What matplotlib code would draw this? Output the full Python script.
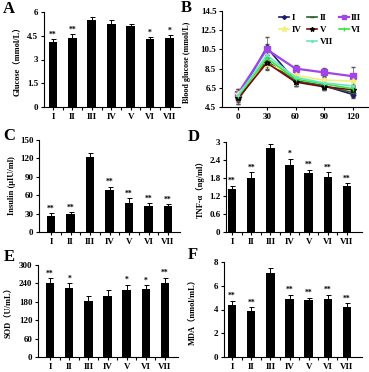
import matplotlib
matplotlib.use("Agg")
import matplotlib.pyplot as plt
from matplotlib.lines import Line2D
import numpy as np

plt.rcParams["font.family"] = ["Liberation Serif", "Noto Sans CJK SC"]
plt.rcParams["font.weight"] = "bold"

groups = ["I", "II", "III", "IV", "V", "VI", "VII"]

glucose = [4.1, 4.35, 5.5, 5.25, 5.1, 4.3, 4.35]
glucose_err = [0.2, 0.25, 0.2, 0.25, 0.12, 0.1, 0.2]
glucose_sig = ["**", "**", "", "", "", "*", "*"]

insulin = [26, 29, 123, 69, 48, 43, 42]
insulin_err = [5, 3, 5, 5, 7, 4, 4]
insulin_sig = ["**", "**", "", "**", "**", "**", "**"]

tnf = [1.45, 1.8, 2.8, 2.25, 1.98, 1.85, 1.52]
tnf_err = [0.1, 0.2, 0.15, 0.2, 0.1, 0.15, 0.12]
tnf_sig = ["**", "**", "", "*", "**", "**", "**"]

sod = [241, 225, 181, 199, 218, 223, 241]
sod_err = [15, 15, 18, 18, 18, 12, 18]
sod_sig = ["**", "*", "", "", "*", "*", "**"]

mda = [4.4, 3.9, 7.1, 4.9, 4.8, 4.9, 4.2]
mda_err = [0.35, 0.3, 0.4, 0.35, 0.2, 0.35, 0.35]
mda_sig = ["**", "**", "", "**", "**", "**", "**"]

# OGTT curves (panel B)
times = [0, 30, 60, 90, 120]
ogtt = {
    "I": [5.5, 10.7, 7.2, 6.7, 5.8],
    "II": [5.3, 9.3, 7.2, 6.7, 6.0],
    "III": [5.9, 10.5, 8.5, 8.1, 7.7],
    "IV": [5.9, 9.0, 7.8, 7.3, 7.2],
    "V": [5.4, 9.1, 7.1, 6.6, 6.3],
    "VI": [5.6, 9.6, 7.4, 6.9, 6.4],
    "VII": [5.7, 9.9, 7.6, 7.0, 6.7],
}
ogtt_err = {
    "I": [0.5, 1.1, 0.5, 0.3, 0.4],
    "II": [0.5, 0.6, 0.5, 0.4, 0.5],
    "III": [0.5, 0.6, 0.4, 0.5, 1.0],
    "IV": [0.5, 0.6, 0.5, 0.4, 0.6],
    "V": [0.6, 0.6, 0.4, 0.3, 0.5],
    "VI": [0.5, 0.6, 0.5, 0.4, 0.5],
    "VII": [0.5, 0.6, 0.5, 0.4, 0.5],
}
ogtt_style = {
    "I": ("#1b1b6b", "D", 2.5),
    "II": ("#2e5e2e", "_", 4),
    "III": ("#a045e8", "s", 4),
    "IV": ("#f2f07a", "*", 5),
    "V": ("#7a0a0a", "*", 4),
    "VI": ("#3ee03e", "|", 3),
    "VII": ("#66e6c2", ".", 3),
}

W, H = 369, 372
fig = plt.figure(figsize=(W / 100, H / 100), dpi=100)


def px_axes(l, r, t, b):
    return fig.add_axes([l / W, 1 - b / H, (r - l) / W, (b - t) / H])


def style_axes(ax):
    ax.spines["top"].set_visible(False)
    ax.spines["right"].set_visible(False)
    ax.spines["left"].set_linewidth(0.8)
    ax.spines["bottom"].set_linewidth(0.8)
    ax.tick_params(axis="both", labelsize=6.5, width=0.8, length=2.5, direction="out", pad=1.5)
    for lab in ax.get_yticklabels() + ax.get_xticklabels():
        lab.set_fontweight("bold")


def bar_panel(ax, vals, errs, sig, ymax, step, first_x, last_x, left, right, ylabel, lab_x, big_x=False):
    x = np.arange(len(groups))
    ax.bar(x, vals, width=0.45, color="black")
    ax.errorbar(x, vals, yerr=[np.zeros(len(vals)), errs], fmt="none",
                ecolor="black", elinewidth=0.7, capsize=1.8, capthick=0.7)
    for xi, v, e, s in zip(x, vals, errs, sig):
        if s:
            ax.text(xi, v + e + ymax * 0.005, s, ha="center", va="bottom", fontsize=5.5, fontweight="bold")
    unit = (last_x - first_x) / (len(groups) - 1)
    ax.set_xlim(-(first_x - left) / unit, len(groups) - 1 + (right - last_x) / unit)
    ax.set_ylim(0, ymax)
    ax.set_yticks(np.arange(0, ymax + step / 2, step))
    ax.set_xticks(x)
    ax.set_xticklabels(groups, fontsize=8 if big_x else 7.5)
    ax.set_xticks(np.arange(len(groups) - 1) + 0.5, minor=True)
    ax.tick_params(axis="x", which="major", length=0, pad=2)
    ax.tick_params(axis="x", which="minor", length=2, width=0.8, direction="out")
    ax.set_ylabel(ylabel, fontsize=6, fontweight="bold")
    ax.yaxis.set_label_coords((lab_x - left) / (right - left), 0.5)
    style_axes(ax)


def fmt_tick(v):
    return ("%g" % v)


# Panel A
axA = px_axes(44, 180, 12, 107)
bar_panel(axA, glucose, glucose_err, glucose_sig, 6, 1.5, 53, 169.5, 44, 180,
          "Glucose（mmol/L）", 21)
axA.set_yticklabels([fmt_tick(v) for v in axA.get_yticks()])

# Panel B
axB = px_axes(222, 368, 11, 107)
handles = {}
for g in groups:
    c, m, ms = ogtt_style[g]
    mec = "black" if g == "V" else c
    lw = 1.6 if g == "III" else 1.2
    axB.errorbar(times, ogtt[g], yerr=ogtt_err[g], color=c, marker=m, markersize=ms,
                 linewidth=lw, elinewidth=0.5, capsize=1.5,
                 ecolor="#555555", mec=mec)
    handles[g] = Line2D([], [], color=c, marker=m, markersize=ms * 0.8, linewidth=lw, mec=mec)
axB.set_xlim(-16.7, 135.6)
axB.set_ylim(4.5, 14.5)
axB.set_yticks([4.5, 6.5, 8.5, 10.5, 12.5, 14.5])
axB.set_xticks(times)
axB.set_ylabel("Blood glucose (mmol/L)", fontsize=5.8, fontweight="bold")
axB.yaxis.set_label_coords((191 - 222) / (368 - 222), 0.47)
style_axes(axB)
blank = Line2D([], [], linestyle="none", marker=None)
order = [handles["I"], handles["IV"], blank, handles["II"], handles["V"], handles["VII"],
         handles["III"], handles["VI"], blank]
labs = ["I", "IV", "", "II", "V", "VII", "III", "VI", ""]
axB.legend(order, labs, ncol=3, frameon=False, fontsize=6.5, loc="upper right",
           bbox_to_anchor=(1.01, 1.06), handlelength=1.1, handletextpad=0.3,
           columnspacing=0.6, labelspacing=0.45)

# Panel C
axC = px_axes(39, 180, 140, 232)
bar_panel(axC, insulin, insulin_err, insulin_sig, 150, 30, 51, 168, 39, 180,
          "Insulin (μIU/ml)", 16, big_x=True)

# Panel D
axD = px_axes(226, 362, 142, 232)
bar_panel(axD, tnf, tnf_err, tnf_sig, 3, 0.6, 232, 347, 226, 362,
          "TNF-α（ng/ml）", 205)
axD.set_yticklabels([fmt_tick(round(v, 1)) for v in axD.get_yticks()])

# Panel E
axE = px_axes(38, 178, 265, 357)
bar_panel(axE, sod, sod_err, sod_sig, 300, 60, 50, 165, 38, 178,
          "SOD（U/mL）", 12)

# Panel F
axF = px_axes(224, 362, 262, 357)
bar_panel(axF, mda, mda_err, mda_sig, 8, 2, 232, 347, 224, 362,
          "MDA（nmol/mL）", 196)

for letter, xp, yp in [("A", 3, 9), ("B", 181, 8), ("C", 3, 136),
                       ("D", 188, 137), ("E", 4, 257), ("F", 188, 255)]:
    fig.text(xp / W, 1 - yp / H, letter, fontsize=12, fontweight="bold",
             ha="left", va="center", family="Liberation Serif")

fig.savefig("out.png", dpi=100)
